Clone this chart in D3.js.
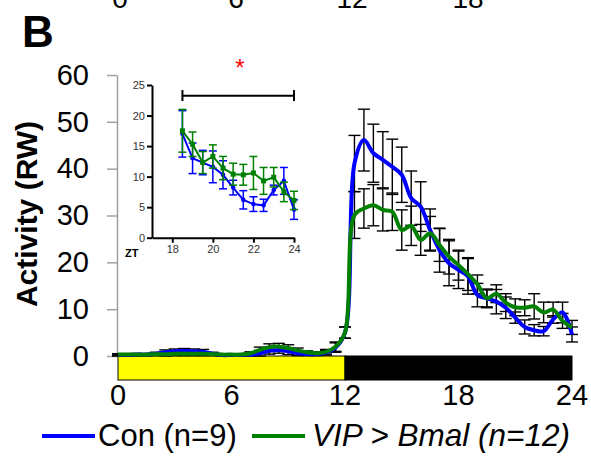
<!DOCTYPE html>
<html><head><meta charset="utf-8">
<script src="https://cdn.jsdelivr.net/npm/d3@7/dist/d3.min.js"></script>
<style>body{margin:0;background:#fff}svg{display:block;font-family:Arial,"Liberation Sans",sans-serif}</style>
</head><body><svg id="c" width="591" height="457"></svg>
<script>
const hours = [0,0.5,1,1.5,2,2.5,3,3.5,4,4.5,5,5.5,6,6.5,7,7.5,8,8.5,9,9.5,10,10.5,11,11.5,12,12.5,13,13.5,14,14.5,15,15.5,16,16.5,17,17.5,18,18.5,19,19.5,20,20.5,21,21.5,22,22.5,23,23.5,24];
const conMean = [0.2,0.2,0.3,0.3,0.5,0.8,1.0,1.1,1.0,0.9,0.5,0.2,0.2,0.2,0.3,0.6,1.1,1.3,1.0,0.6,0.4,0.4,0.7,1.8,5.0,41.1,46.1,43.3,41.9,40.4,38.7,33.7,31.9,26.9,22.6,19.8,18.4,17.0,13.0,12.3,11.6,10.3,8.2,6.2,5.5,5.3,7.8,9.3,4.6];
const conErr  = [0.2,0.2,0.2,0.2,0.3,0.5,0.5,0.5,0.5,0.5,0.3,0.2,0.2,0.2,0.3,0.6,0.7,0.7,0.7,0.5,0.3,0.3,0.5,1.0,1.2,6.0,6.6,6.2,6.0,5.9,5.9,5.8,5.3,4.5,4.7,4.8,4.0,3.8,2.5,2.0,2.6,2.3,1.2,1.5,1.2,1.0,0.8,2.2,1.6];
const vipMean = [0.3,0.3,0.3,0.3,0.4,0.4,0.5,0.5,0.5,0.5,0.4,0.3,0.3,0.3,0.6,1.3,1.9,2.0,1.7,1.2,0.8,0.6,0.9,2.0,5.0,30.1,31.5,32.2,31.2,30.8,26.9,27.8,24.8,26.2,23.7,21.2,19.4,17.5,15.3,12.3,13.3,11.4,10.4,10.3,10.6,9.3,9.9,7.5,6.1];
const vipErr  = [0.2,0.2,0.2,0.2,0.3,0.4,0.4,0.4,0.4,0.4,0.3,0.2,0.2,0.2,0.3,0.6,0.7,0.7,0.7,0.5,0.3,0.3,0.5,1.0,1.2,5.0,4.2,4.4,4.5,4.0,4.3,4.2,3.3,3.6,3.5,3.7,3.2,3.5,2.0,1.8,1.9,1.9,1.8,1.7,2.7,2.2,1.6,1.6,1.5];
const yTicks = [0,10,20,30,40,50,60];
const xTicks = [0,6,12,18,24];
const insetTicksY = [0,5,10,15,20,25];
const insetTicksX = [18,20,22,24];
const topTicks = ["0","6","12","18"];
const lightDark = [{from:0,to:12,fill:"#FFFF00"},{from:12,to:24,fill:"#000000"}];
const seriesNames = ["Con (n=9)","VIP > Bmal (n=12)"];
const colors = ["#0000FF","#008000"];

const svg = d3.select("#c");
const x = d3.scaleLinear().domain([0,24]).range([118,572]);
const y = d3.scaleLinear().domain([0,60]).range([356,75]);

// cut-off labels of panel above
const xa = d3.scaleLinear().domain([0,6]).range([120,236]);
svg.selectAll("text.top").data(topTicks).join("text").attr("class","top")
  .attr("x",(d,i)=>xa(i*6)).attr("y",8).attr("text-anchor","middle")
  .attr("font-size",28).text(d=>d);

svg.append("text").attr("x",22).attr("y",47).attr("font-size",44).attr("font-weight","bold").text("B");

// y axis
const ya = svg.append("g").attr("transform","translate(117,0)")
  .call(d3.axisLeft(y).tickValues(yTicks).tickSize(10).tickSizeOuter(0).tickPadding(18));
ya.select(".domain").attr("stroke","#a0a0a0").attr("stroke-width",1.5);
ya.selectAll(".tick line").attr("stroke","#a0a0a0").attr("stroke-width",1.5);
ya.selectAll("text").attr("font-size",29).attr("font-family","Arial,'Liberation Sans'").attr("fill","#000");

svg.append("text").attr("transform","translate(37,214) rotate(-90)").attr("text-anchor","middle")
  .attr("font-size",30).attr("font-weight","bold").text("Activity (RW)");

// light/dark bar
svg.selectAll("rect.ld").data(lightDark).join("rect").attr("class","ld")
  .attr("x",d=>x(d.from)).attr("width",d=>x(d.to)-x(d.from))
  .attr("y",356).attr("height",24).attr("fill",d=>d.fill)
  .attr("stroke","#000").attr("stroke-width",1);

// x tick labels
svg.selectAll("text.xt").data(xTicks).join("text").attr("class","xt")
  .attr("x",d=>x(d)).attr("y",405).attr("text-anchor","middle").attr("font-size",29).text(d=>d);

// series
const series = [conMean.map((m,i)=>({h:hours[i],m,e:conErr[i]})), vipMean.map((m,i)=>({h:hours[i],m,e:vipErr[i]}))];
const eg = svg.append("g");
series.forEach(s=>{
  const g = eg.append("g").attr("stroke","#000").attr("stroke-width",1.4);
  s.forEach(d=>{
    g.append("line").attr("x1",x(d.h)).attr("x2",x(d.h)).attr("y1",y(d.m-d.e)).attr("y2",y(d.m+d.e));
    g.append("line").attr("x1",x(d.h)-6).attr("x2",x(d.h)+6).attr("y1",y(d.m+d.e)).attr("y2",y(d.m+d.e));
    g.append("line").attr("x1",x(d.h)-6).attr("x2",x(d.h)+6).attr("y1",y(d.m-d.e)).attr("y2",y(d.m-d.e));
  });
});
const line = d3.line().x(d=>x(d.h)).y(d=>y(d.m)).curve(d3.curveCatmullRom.alpha(0.5));
series.forEach((s,i)=>{
  svg.append("path").attr("d",line(s)).attr("fill","none").attr("stroke",colors[i]).attr("stroke-width",4).attr("stroke-linejoin","round");
});

// legend
const legX = [[42,95,98],[252,305,312]];
seriesNames.forEach((n,i)=>{
  svg.append("line").attr("x1",legX[i][0]).attr("x2",legX[i][1]).attr("y1",436).attr("y2",436)
    .attr("stroke",colors[i]).attr("stroke-width",4);
  svg.append("text").attr("x",legX[i][2]).attr("y",446).attr("font-size",i===1?31.5:31)
    .attr("font-style",i===1?"italic":"normal").text(n);
});

// inset
const ix = d3.scaleLinear().domain([17,24]).range([152,294]);
const iy = d3.scaleLinear().domain([0,25]).range([237.7,85]);
const ig = svg.append("g");
const iyA = ig.append("g").attr("transform","translate(152,0)")
  .call(d3.axisLeft(iy).tickValues(insetTicksY).tickFormat(d3.format("d")).tickSize(5).tickSizeOuter(0).tickPadding(2));
const ixA = ig.append("g").attr("transform","translate(0,237.7)")
  .call(d3.axisBottom(ix).tickValues(insetTicksX).tickFormat(d3.format("d")).tickSize(5).tickSizeOuter(0).tickPadding(3));
[iyA,ixA].forEach(a=>{
  a.select(".domain").attr("stroke","#000").attr("stroke-width",2);
  a.selectAll(".tick line").attr("stroke","#000").attr("stroke-width",2);
  a.selectAll("text").attr("font-size",11).attr("fill","#333").attr("font-family","Arial,'Liberation Sans'");
});
ig.append("text").attr("x",125).attr("y",257).attr("font-size",11).attr("font-weight","bold").text("ZT");

const insetData = series.map(s=>s.filter(d=>d.h>=18.5));
const iline = d3.line().x(d=>ix(d.h)).y(d=>iy(d.m));
insetData.forEach((s,i)=>{
  const g = ig.append("g").attr("stroke",colors[i]).attr("stroke-width",1.5);
  s.forEach(d=>{
    g.append("line").attr("x1",ix(d.h)).attr("x2",ix(d.h)).attr("y1",iy(d.m-d.e)).attr("y2",iy(d.m+d.e));
    g.append("line").attr("x1",ix(d.h)-4).attr("x2",ix(d.h)+4).attr("y1",iy(d.m+d.e)).attr("y2",iy(d.m+d.e));
    g.append("line").attr("x1",ix(d.h)-4).attr("x2",ix(d.h)+4).attr("y1",iy(d.m-d.e)).attr("y2",iy(d.m-d.e));
  });
  ig.append("path").attr("d",iline(s)).attr("fill","none").attr("stroke",colors[i]).attr("stroke-width",2);
  if(i===0){
    ig.selectAll("circle.m").data(s).join("circle").attr("class","m").attr("cx",d=>ix(d.h)).attr("cy",d=>iy(d.m)).attr("r",2.3).attr("fill",colors[0]);
  } else {
    ig.selectAll("rect.m").data(s).join("rect").attr("class","m").attr("x",d=>ix(d.h)-2.5).attr("y",d=>iy(d.m)-2.5).attr("width",5).attr("height",5).attr("fill",colors[1]);
  }
});
// significance bar
const sig = ig.append("g").attr("stroke","#000").attr("stroke-width",2);
sig.append("line").attr("x1",ix(18.5)).attr("x2",ix(24)).attr("y1",95.7).attr("y2",95.7);
sig.append("line").attr("x1",ix(18.5)).attr("x2",ix(18.5)).attr("y1",90).attr("y2",101);
sig.append("line").attr("x1",ix(24)).attr("x2",ix(24)).attr("y1",90).attr("y2",101);
ig.append("text").attr("x",240).attr("y",76).attr("text-anchor","middle").attr("font-size",24).attr("fill","#ff0000").text("*");
</script></body></html>
